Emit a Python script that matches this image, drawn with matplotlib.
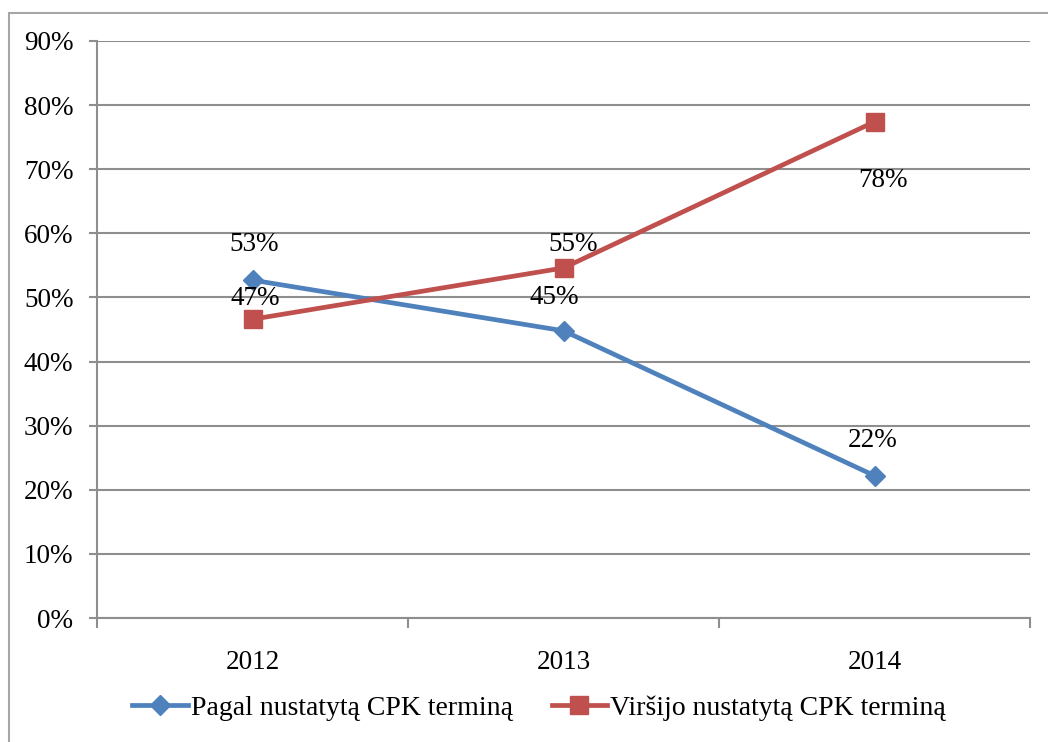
import matplotlib
matplotlib.use("Agg")
import matplotlib.pyplot as plt
from matplotlib.patches import Rectangle
from matplotlib.ticker import FixedLocator

years = ["2012", "2013", "2014"]
pagal = [52.7, 44.8, 22.2]
pagal_labels = ["53%", "45%", "22%"]
virsijo = [46.6, 54.6, 77.4]
virsijo_labels = ["47%", "55%", "78%"]
series_names = ["Pagal nustatytą CPK terminą", "Viršijo nustatytą CPK terminą"]
yticks = list(range(0, 91, 10))

BLUE = "#4F81BD"
RED = "#C0504D"
GRID = "#8E8E8E"
FONT = "Liberation Serif"

fig = plt.figure(figsize=(10.48, 7.42), dpi=100)
ax = fig.add_axes([97/1048, 1-618/742, (1030-97)/1048, (618-41)/742])

x = list(range(len(years)))
ax.plot(x, pagal, color=BLUE, lw=3.4, marker="D", ms=10, mfc=BLUE, mec=BLUE,
        label=series_names[0], zorder=3)
ax.plot(x, virsijo, color=RED, lw=3.4, marker="s", ms=12.5, mfc=RED, mec=RED,
        label=series_names[1], zorder=3)

blue_off = [(2, 36), (-9, 33), (-2, 35)]
red_off = [(3, 21), (10, 23), (9, -59)]
for xi, v, t, o in zip(x, pagal, pagal_labels, blue_off):
    ax.annotate(t, (xi, v), xytext=o, textcoords="offset pixels",
                ha="center", va="center", fontsize=19.5, family=FONT, color="black", zorder=4)
for xi, v, t, o in zip(x, virsijo, virsijo_labels, red_off):
    ax.annotate(t, (xi, v), xytext=o, textcoords="offset pixels",
                ha="center", va="center", fontsize=19.5, family=FONT, color="black", zorder=4)

ax.set_xlim(-0.5, len(years) - 0.5)
ax.set_ylim(0, 90)
ax.set_yticks(yticks)
ax.set_yticklabels([f"{v}%" for v in yticks], family=FONT, fontsize=19.5)
ax.set_xticks(x)
ax.set_xticklabels(years, family=FONT, fontsize=19.5)
ax.xaxis.set_minor_locator(FixedLocator([i - 0.5 for i in range(len(years) + 1)]))
ax.tick_params(axis="x", which="major", length=0, pad=23)
ax.tick_params(axis="x", which="minor", length=7, width=1.5, color=GRID, direction="out")
ax.tick_params(axis="y", length=6, width=1.5, color=GRID, pad=11)

ax.grid(axis="y", color=GRID, lw=1.5, zorder=0)
ax.set_axisbelow(True)
for s in ["top", "right"]:
    ax.spines[s].set_visible(False)
for s in ["left", "bottom"]:
    ax.spines[s].set_color(GRID)
    ax.spines[s].set_linewidth(1.5)

leg = fig.legend(loc="center", bbox_to_anchor=(539/1048, 1-708/742), ncol=2,
                 frameon=False, prop={"family": FONT, "size": 20},
                 handlelength=2.0, handletextpad=0.1, columnspacing=1.4)

fig.patches.append(Rectangle((9/1048, -0.1), 1.2, 1 - 13/742 + 0.1, transform=fig.transFigure,
                             fill=False, edgecolor="#A6A6A6", lw=1.5))

fig.savefig("out.png", dpi=100)
